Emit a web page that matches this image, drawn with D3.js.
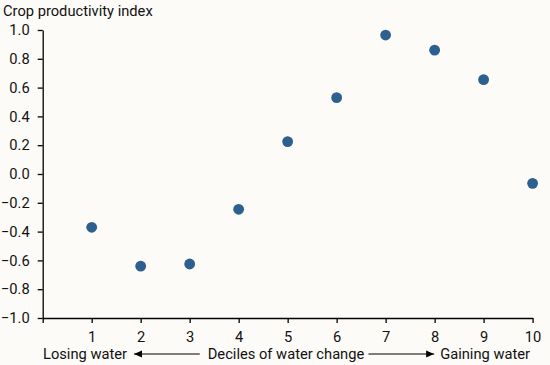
<!DOCTYPE html>
<html>
<head>
<meta charset="utf-8">
<script src="https://cdn.jsdelivr.net/npm/d3@7"></script>
<style>
  body { margin: 0; background: #fcfbf8; }
  svg { display: block; font-family: Roboto, "Noto Sans", sans-serif; }
</style>
</head>
<body>
<div id="chart"></div>
<script>
// Daten
const deciles = [1, 2, 3, 4, 5, 6, 7, 8, 9, 10];
const productivity = [-0.37, -0.64, -0.625, -0.245, 0.225, 0.53, 0.965, 0.86, 0.655, -0.065];
const yTicks = [-1.0, -0.8, -0.6, -0.4, -0.2, 0.0, 0.2, 0.4, 0.6, 0.8, 1.0];
const xTicks = [0, 1, 2, 3, 4, 5, 6, 7, 8, 9, 10];
const yTitle = "Crop productivity index";
const bottomLabels = ["Losing water", "Deciles of water change", "Gaining water"];

const width = 550, height = 365;
const margin = {top: 30, right: 17.4, bottom: 47, left: 42.7};
const fontSize = "14.7px";

const svg = d3.select("#chart")
    .append("svg")
    .attr("width", width)
    .attr("height", height);

svg.append("rect")
    .attr("width", width)
    .attr("height", height)
    .attr("fill", "#fcfbf8");

const x = d3.scaleLinear()
    .domain([0, 10])
    .range([margin.left, width - margin.right]);

const y = d3.scaleLinear()
    .domain([-1, 1])
    .range([height - margin.bottom, margin.top]);

// Y-Achse
svg.append("g")
    .attr("transform", `translate(${margin.left},0)`)
    .call(d3.axisLeft(y)
        .tickValues(yTicks)
        .tickFormat(d3.format(".1f"))
        .tickSize(5)
        .tickSizeOuter(0)
        .tickPadding(8));

// X-Achse
svg.append("g")
    .attr("transform", `translate(0,${height - margin.bottom})`)
    .call(d3.axisBottom(x)
        .tickValues(xTicks)
        .tickFormat(d => d === 0 ? "" : d)
        .tickSize(5)
        .tickSizeOuter(0)
        .tickPadding(8.5));

svg.selectAll(".tick text")
    .attr("font-size", fontSize)
    .attr("font-family", "Roboto, sans-serif")
    .attr("fill", "#111");
svg.selectAll(".domain, .tick line")
    .attr("stroke", "#000")
    .attr("stroke-width", 1.3);

// Titel
svg.append("text")
    .attr("x", 3)
    .attr("y", 16)
    .attr("font-size", fontSize)
    .attr("fill", "#111")
    .text(yTitle);

// Punkte
svg.selectAll(".dot")
    .data(deciles)
    .join("circle")
    .attr("class", "dot")
    .attr("cx", d => x(d))
    .attr("cy", (d, i) => y(productivity[i]))
    .attr("r", 5.4)
    .attr("fill", "#2d5f8f");

// Beschriftung unten mit Pfeilen
const labelY = 359;
const left = svg.append("text")
    .attr("x", 43)
    .attr("y", labelY)
    .attr("font-size", fontSize)
    .attr("fill", "#111")
    .text(bottomLabels[0]);
const mid = svg.append("text")
    .attr("x", 286)
    .attr("y", labelY)
    .attr("text-anchor", "middle")
    .attr("font-size", fontSize)
    .attr("fill", "#111")
    .text(bottomLabels[1]);
const right = svg.append("text")
    .attr("x", 530)
    .attr("y", labelY)
    .attr("text-anchor", "end")
    .attr("font-size", fontSize)
    .attr("fill", "#111")
    .text(bottomLabels[2]);

svg.append("defs").append("marker")
    .attr("id", "head")
    .attr("viewBox", "0 0 8 8")
    .attr("refX", 8)
    .attr("refY", 4)
    .attr("markerWidth", 8)
    .attr("markerHeight", 8)
    .attr("markerUnits", "userSpaceOnUse")
    .attr("orient", "auto")
    .append("path")
    .attr("d", "M0,0.5L8,4L0,7.5Z")
    .attr("fill", "#000");

const lb = left.node().getBBox();
const mb = mid.node().getBBox();
const rb = right.node().getBBox();
const arrowY = labelY - 5;

svg.append("line")
    .attr("x1", mb.x - 8).attr("y1", arrowY)
    .attr("x2", lb.x + lb.width + 7).attr("y2", arrowY)
    .attr("stroke", "#000").attr("stroke-width", 1.2)
    .attr("marker-end", "url(#head)");
svg.append("line")
    .attr("x1", mb.x + mb.width + 4).attr("y1", arrowY)
    .attr("x2", rb.x - 6).attr("y2", arrowY)
    .attr("stroke", "#000").attr("stroke-width", 1.2)
    .attr("marker-end", "url(#head)");
</script>
</body>
</html>
